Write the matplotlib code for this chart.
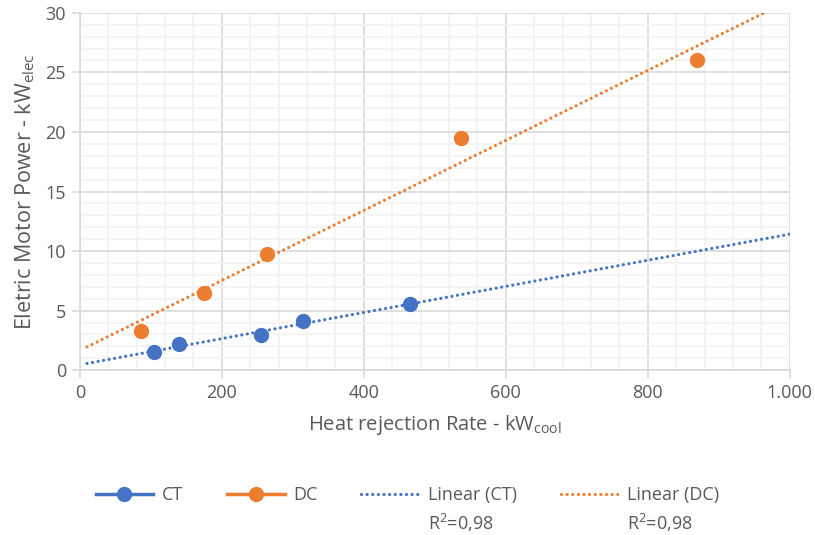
import numpy as np
import matplotlib
matplotlib.use("Agg")
import matplotlib.pyplot as plt
from matplotlib.ticker import MultipleLocator, FuncFormatter
from matplotlib.lines import Line2D

plt.rcParams['font.family'] = ['Open Sans', 'DejaVu Sans']
plt.rcParams['mathtext.fontset'] = 'custom'
plt.rcParams['mathtext.rm'] = 'Open Sans'

# data
ct_x = [104, 139, 255, 314, 465]
ct_y = [1.5, 2.2, 2.95, 4.1, 5.55]
dc_x = [86, 175, 263, 537, 870]
dc_y = [3.3, 6.5, 9.75, 19.5, 26.0]
r2_labels = ['R$^2$=0,98', 'R$^2$=0,98']

blue = '#4472C4'
orange = '#ED7D31'
grey_txt = '#595959'
dots = (0, (0.01, 1.75))

fig = plt.figure(figsize=(8.15, 5.35), dpi=100)
ax = fig.add_axes([0.098, 0.308, 0.871, 0.668])

# trendlines (least squares), drawn from 10 to 1000
xt = np.linspace(10, 1000, 200)
for xs, ys, c in [(ct_x, ct_y, blue), (dc_x, dc_y, orange)]:
    k, b = np.polyfit(xs, ys, 1)
    ax.plot(xt, k * xt + b, color=c, lw=2.3, linestyle=dots,
            dash_capstyle='round', zorder=3)

ax.plot(ct_x, ct_y, 'o', color=blue, ms=10, zorder=4)
ax.plot(dc_x, dc_y, 'o', color=orange, ms=10, zorder=4)

ax.set_xlim(0, 1000)
ax.set_ylim(0, 30)
ax.xaxis.set_major_locator(MultipleLocator(200))
ax.xaxis.set_minor_locator(MultipleLocator(40))
ax.yaxis.set_major_locator(MultipleLocator(5))
ax.yaxis.set_minor_locator(MultipleLocator(1))
ax.xaxis.set_major_formatter(FuncFormatter(lambda v, p: f'{int(v):,}'.replace(',', '.')))

ax.grid(which='major', color='#D9D9D9', lw=1.2)
ax.grid(which='minor', color='#F2F2F2', lw=1.2)
ax.set_axisbelow(True)
for s in ['top', 'right']:
    ax.spines[s].set_visible(False)
for s in ['left', 'bottom']:
    ax.spines[s].set_color('#D9D9D9')
    ax.spines[s].set_linewidth(1.2)
ax.tick_params(which='major', length=6, color='#D9D9D9', width=1.2,
               labelsize=13, labelcolor=grey_txt, pad=4)
ax.tick_params(which='minor', length=0)

ax.set_xlabel('Heat rejection Rate - kW$_{\\mathregular{cool}}$', fontsize=14.5,
              color=grey_txt, labelpad=8)
ax.set_ylabel('Eletric Motor Power - kW$_{\\mathregular{elec}}$', fontsize=15.5,
              color=grey_txt, labelpad=6)

handles = [
    Line2D([], [], color=blue, lw=2.5, marker='o', ms=10),
    Line2D([], [], color=orange, lw=2.5, marker='o', ms=10),
    Line2D([], [], color=blue, lw=2.3, linestyle=dots, dash_capstyle='round'),
    Line2D([], [], color=orange, lw=2.3, linestyle=dots, dash_capstyle='round'),
]
labels = ['CT', 'DC', 'Linear (CT)', 'Linear (DC)']
leg = fig.legend(handles, labels, loc='center', bbox_to_anchor=(0.5, 1 - 495 / 535),
                 ncol=4, frameon=False, fontsize=13, handlelength=3.2,
                 columnspacing=2.4, handletextpad=0.5, labelcolor=grey_txt)

fig.canvas.draw()
inv = fig.transFigure.inverted()
for t, r2 in zip(leg.get_texts()[2:], r2_labels):
    bb = t.get_window_extent()
    x0, y0 = inv.transform((bb.x0, bb.y0))
    fig.text(x0, y0 - 0.014, r2, fontsize=13, color=grey_txt, va='top', ha='left')

fig.savefig('out.png', dpi=100)
